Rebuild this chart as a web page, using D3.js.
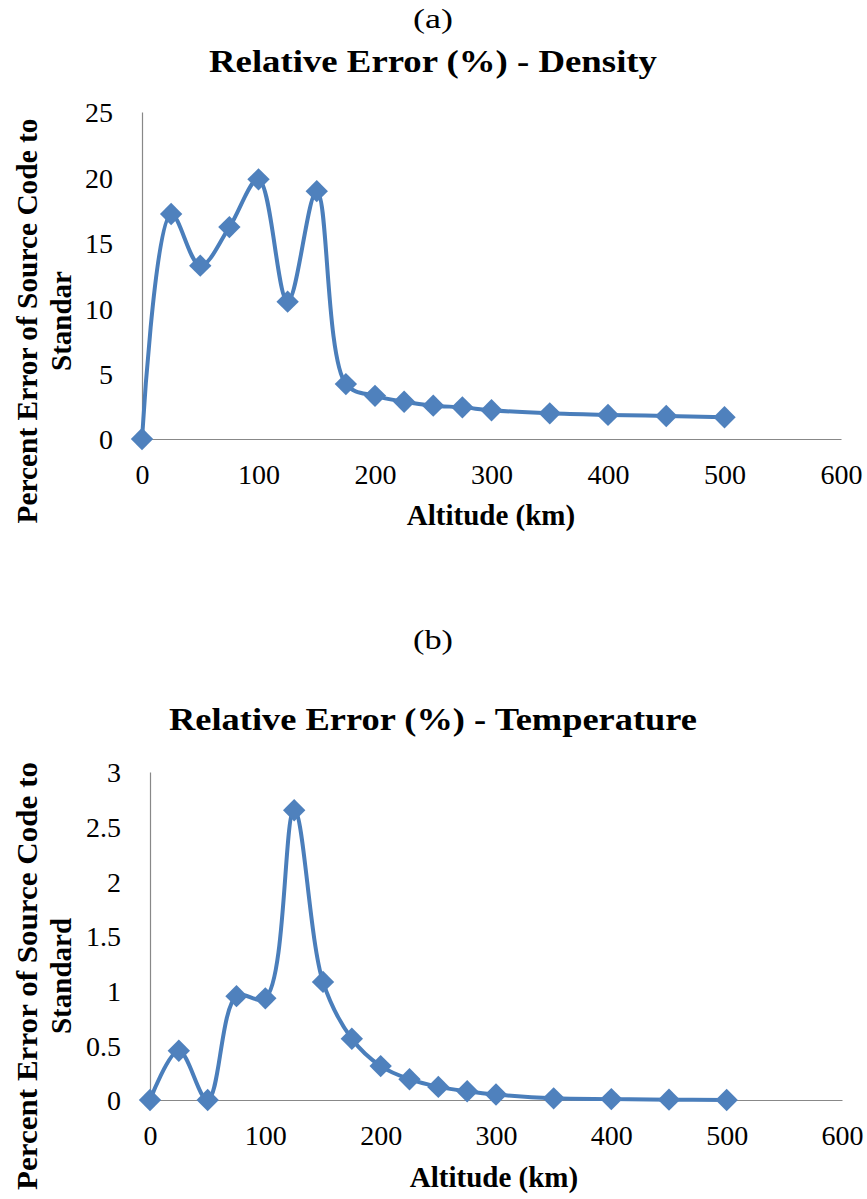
<!DOCTYPE html>
<html>
<head>
<meta charset="utf-8">
<script src="https://cdn.jsdelivr.net/npm/d3@7"></script>
<style>
  html, body { margin: 0; padding: 0; background: #fff; }
  svg { display: block; }
  svg text { font-family: "Liberation Serif", "Times New Roman", serif; }
</style>
</head>
<body>
<svg id="chart" width="867" height="1199"></svg>
<script>
// Altitude samples (km) shared by both panels
const altitudes = [0, 25, 50, 75, 100, 125, 150, 175, 200, 225, 250, 275, 300, 350, 400, 450, 500];

// Relative error (%) of the source code against the standard atmosphere
const densityError = [0, 17.2, 13.25, 16.2, 19.85, 10.5, 18.95, 4.2, 3.3, 2.85, 2.55, 2.42, 2.2, 1.96, 1.84, 1.76, 1.66];
const temperatureError = [0, 0.45, 0, 0.95, 0.93, 2.65, 1.08, 0.56, 0.31, 0.19, 0.12, 0.08, 0.05, 0.015, 0.008, 0.003, 0];

// Axis ticks
const xTicks = [0, 100, 200, 300, 400, 500, 600];
const densityTicks = [0, 5, 10, 15, 20, 25];
const temperatureTicks = [0, 0.5, 1, 1.5, 2, 2.5, 3];

const panels = [
  {
    tag: "(a)", tagY: 28,
    title: "Relative Error (%) - Density", titleY: 72, titleW: 448,
    yLines: ["Percent Error of Source Code to", "Standar"], yLine1W: 405, yCenter: 321,
    values: densityError, yTicks: densityTicks, yMax: 25,
    left: 142, right: 841, top: 112, bottom: 439,
    xTitleX: 491, xTitleY: 525
  },
  {
    tag: "(b)", tagY: 649,
    title: "Relative Error (%) - Temperature", titleY: 730, titleW: 528,
    yLines: ["Percent Error of Source Code to", "Standard"], yLine1W: 428, yCenter: 976,
    values: temperatureError, yTicks: temperatureTicks, yMax: 3,
    left: 150, right: 842, top: 772, bottom: 1100,
    xTitleX: 494, xTitleY: 1187
  }
];

const svg = d3.select("#chart");
const lineColor = "#4a7ebb";
const markerColor = "#4f81bd";
const axisColor = "#888888";

panels.forEach(p => {
  const g = svg.append("g");

  // Panel tag and chart title
  g.append("text")
    .attr("x", 433).attr("y", p.tagY)
    .attr("text-anchor", "middle")
    .attr("font-size", 28)
    .attr("textLength", 40).attr("lengthAdjust", "spacingAndGlyphs")
    .text(p.tag);

  g.append("text")
    .attr("x", 433).attr("y", p.titleY)
    .attr("text-anchor", "middle")
    .attr("font-size", 31).attr("font-weight", "bold")
    .attr("textLength", p.titleW).attr("lengthAdjust", "spacingAndGlyphs")
    .text(p.title);

  const x = d3.scaleLinear().domain([0, 600]).range([p.left, p.right]);
  const y = d3.scaleLinear().domain([0, p.yMax]).range([p.bottom, p.top]);

  // Axes: grey rule lines, no tick marks
  const xAxis = g.append("g")
    .attr("transform", `translate(0,${p.bottom})`)
    .call(d3.axisBottom(x).tickValues(xTicks).tickSize(0).tickFormat(d3.format("d")));
  xAxis.attr("font-family", null);
  xAxis.select(".domain").attr("stroke", axisColor).attr("stroke-width", 1.2);
  xAxis.selectAll("text")
    .attr("y", 45).attr("dy", 0)
    .attr("font-size", 28).attr("fill", "#000");

  const yAxis = g.append("g")
    .attr("transform", `translate(${p.left},0)`)
    .call(d3.axisLeft(y).tickValues(p.yTicks).tickSize(0).tickFormat(d => String(d)));
  yAxis.attr("font-family", null);
  yAxis.select(".domain").attr("stroke", axisColor).attr("stroke-width", 1.2);
  yAxis.selectAll("text")
    .attr("x", -29).attr("dy", "0.35em")
    .attr("font-size", 28).attr("fill", "#000");

  // Axis titles
  g.append("text")
    .attr("x", p.xTitleX).attr("y", p.xTitleY)
    .attr("text-anchor", "middle")
    .attr("font-size", 29).attr("font-weight", "bold")
    .text("Altitude (km)");

  g.append("text")
    .attr("transform", `translate(37,${p.yCenter}) rotate(-90)`)
    .attr("text-anchor", "middle")
    .attr("font-size", 29).attr("font-weight", "bold")
    .attr("textLength", p.yLine1W).attr("lengthAdjust", "spacingAndGlyphs")
    .text(p.yLines[0]);
  g.append("text")
    .attr("transform", `translate(71,${p.yCenter}) rotate(-90)`)
    .attr("text-anchor", "middle")
    .attr("font-size", 29).attr("font-weight", "bold")
    .text(p.yLines[1]);

  // Smoothed series line
  const pts = altitudes.map((a, i) => [a, p.values[i]]);
  const line = d3.line()
    .x(d => x(d[0])).y(d => y(d[1]))
    .curve(d3.curveCatmullRom.alpha(0.5));
  g.append("path")
    .datum(pts)
    .attr("d", line)
    .attr("fill", "none")
    .attr("stroke", lineColor)
    .attr("stroke-width", 4)
    .attr("stroke-linejoin", "round");

  // Diamond markers
  const diamond = d3.symbol().type(d3.symbolSquare).size(250);
  g.append("g").selectAll("path")
    .data(pts)
    .join("path")
    .attr("d", diamond)
    .attr("transform", d => `translate(${x(d[0])},${y(d[1])}) rotate(45)`)
    .attr("fill", markerColor);
});
</script>
</body>
</html>
